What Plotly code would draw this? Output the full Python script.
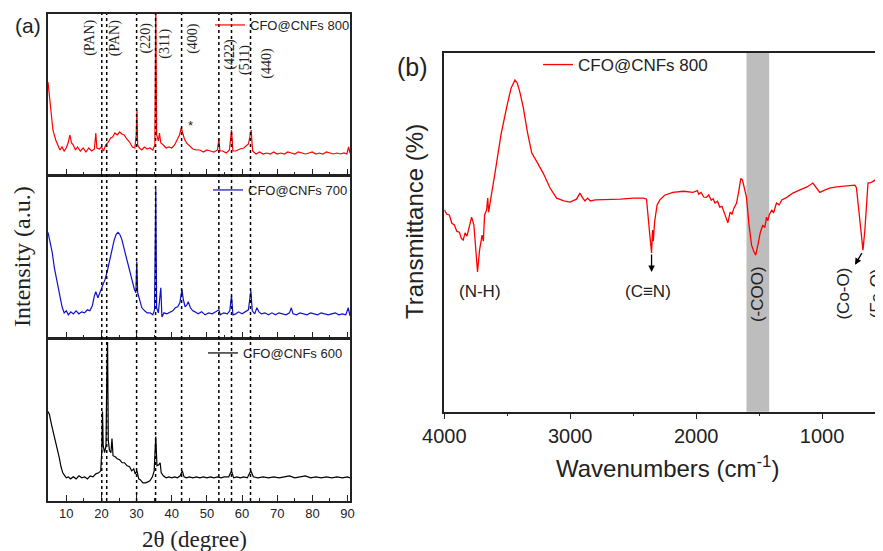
import plotly.graph_objects as go

# ---------------- XRD data (panel a) ----------------
tt_800 = [4.8, 5.4, 6.2, 7.0, 7.4, 8.2, 8.8, 9.4, 10.0, 10.6, 11.0, 11.5, 12.0, 12.6, 13.2, 14.0, 14.8, 15.6,
          16.4, 17.2, 18.0, 18.4, 18.7, 19.4, 20.0, 20.6, 21.2, 22.0, 22.6, 23.2, 23.8, 24.5, 25.2, 25.8, 26.5,
          27.2, 28.0, 28.8, 29.5, 29.9, 30.1, 30.3, 30.8, 31.5, 32.2, 33.0, 33.8, 34.6, 35.2, 35.45, 35.7, 36.2,
          36.5, 36.9, 37.6, 38.4, 39.2, 40.0, 40.8, 41.5, 42.2, 42.7, 43.1, 43.6, 44.2, 45.0, 46.0, 47.0, 48.0,
          49.0, 50.0, 51.0, 52.0, 53.0, 53.4, 53.7, 54.5, 55.5, 56.4, 57.0, 57.4, 58.2, 59.4, 60.5, 61.2, 61.8,
          62.6, 63.0, 64.0, 65.0, 66.0, 67.0, 68.0, 69.0, 70.0, 71.0, 72.0, 73.0, 74.0, 75.0, 76.0, 77.0, 78.0,
          79.0, 80.0, 81.0, 82.0, 83.0, 84.0, 85.0, 86.0, 87.0, 88.0, 89.0, 89.8, 90.3, 90.7]
int_800 = [93, 70, 45, 35, 32, 25, 28, 24, 27, 33, 40, 32, 30, 25, 28, 24, 27, 23,
           27, 24, 26, 42, 27, 26, 28, 24, 30, 33, 37, 38, 42, 40, 43, 41, 40,
           36, 33, 28, 27, 40, 65, 30, 27, 25, 28, 26, 27, 25, 30, 175, 40, 34,
           42, 32, 30, 27, 28, 27, 30, 35, 40, 47, 42, 36, 32, 29, 26, 25, 25,
           23, 25, 24, 23, 25, 36, 24, 24, 22, 25, 45, 24, 24, 26, 27, 29, 31,
           45, 24, 21, 23, 21, 22, 21, 23, 21, 22, 21, 23, 22, 21, 23, 22, 21,
           22, 23, 21, 22, 21, 23, 22, 21, 22, 21, 22, 21, 28, 22]

tt_700 = [4.8, 5.4, 6.0, 6.6, 7.4, 8.0, 8.8, 9.4, 10.0, 10.6, 11.3, 12.0, 12.8, 13.6, 14.4, 15.2, 16.0, 16.7,
          17.4, 18.0, 18.4, 19.0, 19.6, 20.3, 21.0, 21.7, 22.4, 23.0, 23.6, 24.2, 24.7, 25.2, 25.8, 26.5, 27.2,
          28.0, 28.7, 29.4, 29.8, 30.05, 30.3, 30.8, 31.5, 32.3, 33.0, 33.8, 34.6, 35.1, 35.45, 35.7, 36.2, 36.6,
          36.9, 37.2, 37.8, 38.6, 39.5, 40.3, 41.0, 41.7, 42.3, 42.9, 43.3, 43.8, 44.3, 44.7, 45.3, 46.0, 46.6,
          47.5, 48.5, 49.5, 50.5, 51.5, 52.5, 53.4, 53.8, 54.8, 55.8, 56.5, 57.0, 57.4, 58.2, 59.0, 60.0, 61.0,
          61.8, 62.5, 62.9, 63.6, 64.2, 64.8, 65.5, 66.5, 67.5, 68.5, 69.5, 70.5, 71.5, 72.5, 73.5, 74.0, 74.5,
          75.5, 76.5, 77.5, 78.5, 79.5, 80.5, 81.5, 82.5, 83.5, 84.5, 85.5, 86.5, 87.5, 88.5, 89.5, 90.2, 90.7]
int_700 = [105, 95, 85, 70, 55, 42, 31, 25, 27, 23, 26, 24, 27, 24, 26, 25, 28, 27,
           32, 42, 46, 40, 45, 52, 58, 67, 78, 88, 97, 103, 105, 103, 98, 88, 78,
           65, 55, 48, 45, 76, 45, 38, 30, 27, 25, 25, 23, 28, 148, 30, 25, 40,
           50, 21, 25, 24, 26, 27, 30, 31, 35, 48, 38, 31, 33, 36, 30, 27, 26,
           24, 26, 23, 25, 24, 26, 28, 23, 25, 24, 27, 42, 23, 24, 26, 24, 26,
           28, 47, 27, 24, 30, 26, 24, 25, 23, 25, 23, 25, 24, 23, 25, 30, 24,
           23, 25, 24, 23, 25, 24, 23, 25, 24, 23, 24, 25, 23, 24, 23, 30, 22]

tt_600 = [4.8, 5.2, 5.8, 6.6, 7.4, 8.0, 8.5, 9.0, 9.4, 10.0, 10.6, 11.2, 12.0, 12.8, 13.6, 14.4, 15.2, 16.0,
          16.8, 17.6, 18.4, 19.2, 19.8, 20.1, 20.3, 20.5, 20.9, 21.3, 21.55, 21.75, 21.95, 22.3, 22.7, 23.0,
          23.3, 23.9, 24.5, 25.2, 25.9, 26.6, 27.3, 28.0, 28.6, 29.2, 29.6, 30.1, 30.6, 31.1, 31.8, 32.5, 33.2,
          33.8, 34.5, 35.0, 35.45, 35.8, 36.3, 36.7, 37.0, 37.6, 38.4, 39.2, 40.0, 40.8, 41.6, 42.4, 43.0, 43.5,
          44.2, 45.0, 46.0, 47.0, 48.0, 49.0, 50.0, 51.0, 52.0, 53.0, 54.0, 55.0, 56.2, 57.0, 57.6, 58.5, 59.5,
          60.5, 61.5, 62.5, 63.2, 64.5, 66.0, 67.5, 69.0, 70.5, 72.0, 73.5, 75.0, 76.5, 78.0, 79.5, 81.0, 82.5,
          84.0, 85.5, 87.0, 88.5, 90.0, 90.7]
int_600 = [89, 86, 76, 65, 54, 43, 34, 28, 26, 23, 24, 22, 24, 22, 25, 23, 24, 22,
           25, 24, 27, 28, 30, 50, 89, 55, 48, 55, 130, 158, 60, 50, 48, 62,
           45, 44, 42, 41, 38, 38, 35, 34, 30, 32, 27, 30, 22, 21, 18, 18, 19,
           20, 24, 30, 64, 35, 36, 38, 28, 25, 23, 24, 23, 24, 23, 25, 30, 24,
           23, 24, 23, 24, 23, 24, 23, 24, 23, 24, 23, 24, 24, 30, 23, 24, 23,
           24, 23, 30, 24, 23, 24, 23, 24, 23, 24, 25, 23, 24, 25, 23, 24, 23,
           24, 23, 24, 23, 24, 23]

peak_lines = [20.1, 21.5, 30.0, 35.4, 42.8, 53.4, 57.0, 62.4]
hkl_labels = ["(PAN)", "(PAN)", "(220)", "(311)", "(400)", "(422)", "(511)", "(440)"]
hkl_x = [16.7, 23.9, 32.8, 38.0, 46.0, 56.5, 60.8, 67.0]
hkl_y = [137, 137, 137, 131, 137, 121, 115, 112]
star_x, star_y = 45.2, 49

# ---------------- FTIR data (panel b) ----------------
wn = [4000, 3980, 3960, 3940, 3920, 3900, 3880, 3865, 3850, 3835, 3820, 3800, 3783, 3765, 3750, 3736, 3720,
      3700, 3690, 3680, 3664, 3655, 3648, 3637, 3620, 3600, 3584, 3550, 3505, 3470, 3439, 3420, 3400, 3373,
      3340, 3306, 3260, 3214, 3160, 3108, 3050, 3002, 2950, 2923, 2900, 2883, 2862, 2840, 2800, 2700, 2600,
      2500, 2420, 2394, 2380, 2370, 2360, 2354, 2346, 2340, 2330, 2310, 2288, 2250, 2185, 2100, 2026, 1990,
      1980, 1960, 1940, 1918, 1900, 1880, 1865, 1850, 1830, 1812, 1795, 1780, 1760, 1748, 1730, 1715, 1700,
      1679, 1660, 1645, 1632, 1615, 1600, 1580, 1560, 1540, 1527, 1510, 1490, 1470, 1455, 1441, 1430, 1420,
      1400, 1385, 1362, 1340, 1320, 1280, 1232, 1180, 1120, 1073, 1050, 1018, 980, 940, 886, 820, 780, 740,
      727, 710, 690, 675, 660, 645, 635, 608, 580, 550, 535, 527, 516]
trans = [56.2, 55.0, 54.8, 52.5, 52.0, 50.2, 50.0, 48.3, 47.8, 49.8, 48.9, 52.0, 54.2, 52.0, 45.0, 38.9, 45.0,
         49.2, 47.5, 54.8, 56.2, 59.5, 55.6, 57.6, 61.7, 65.9, 69.3, 77.1, 84.8, 90.1, 92.4, 91.5, 89.0, 84.8,
         77.9, 72.1, 69.3, 66.4, 62.3, 59.5, 58.7, 58.4, 59.2, 60.9, 59.5, 58.7, 59.5, 58.7, 59.0, 59.0, 59.2,
         59.5, 59.5, 59.2, 54.8, 50.0, 46.4, 44.2, 50.6, 47.5, 52.8, 57.6, 59.0, 60.3, 61.1, 61.4, 61.1, 61.6,
         60.6, 61.1, 59.8, 59.7, 60.4, 58.9, 59.3, 58.1, 58.6, 57.0, 57.2, 55.6, 53.9, 52.6, 55.6, 55.0, 56.7,
         58.1, 61.7, 65.0, 64.5, 61.7, 59.7, 52.0, 46.4, 44.5, 43.6, 46.4, 50.0, 52.0, 51.3, 54.2, 53.2, 54.8,
         56.2, 55.4, 58.1, 57.6, 59.0, 59.7, 60.9, 61.7, 62.6, 63.7, 62.6, 61.1, 61.7, 62.3, 62.6, 62.8, 63.1, 63.1,
         62.4, 56.0, 49.2, 45.0, 50.6, 58.9, 63.7, 63.9, 64.5, 63.7, 64.2, 59.0, 30.0]

coo_band = [1600, 1420]
band_labels = ["(N-H)", "(C\u2261N)", "(-COO)", "(Co-O)", "(Fe-O)"]
band_lx = [3717, 2382, 1508, 829, 567]
band_ly = [33.4, 33.4, 32.8, 32.8, 32.8]
band_angle = [0, 0, -90, -90, -90]
# arrows: (tip x, tip y, tail x, tail y)
arrow_tip_x = [2354, 738, 539]
arrow_tip_y = [38.9, 40.9, 40.9]
arrow_tail_x = [2354, 677, 539]
arrow_tail_y = [44.2, 44.6, 52.8]

W, H = 883, 551
OFF = 8  # page body margin of the rendered html


def px(x):
    return (x - OFF) / W


def py(y):
    return 1 - (y - OFF) / H


AX = "#222222"
fig = go.Figure()

fig.add_trace(go.Scatter(x=tt_600, y=int_600, mode="lines", line=dict(color="black", width=1.2),
                         name="CFO@CNFs 600", xaxis="x", yaxis="y", legend="legend3"))
fig.add_trace(go.Scatter(x=tt_700, y=int_700, mode="lines", line=dict(color="#1010c8", width=1.2),
                         name="CFO@CNFs 700", xaxis="x2", yaxis="y2", legend="legend2"))
fig.add_trace(go.Scatter(x=tt_800, y=int_800, mode="lines", line=dict(color="#ff0000", width=1.2),
                         name="CFO@CNFs 800", xaxis="x3", yaxis="y3", legend="legend"))
fig.add_trace(go.Scatter(x=wn, y=trans, mode="lines", line=dict(color="#ff0000", width=1.3),
                         name="CFO@CNFs 800", xaxis="x4", yaxis="y4", legend="legend4"))

xa_dom = [px(48), px(350)]
xr = [4.8, 90.7]
common_x = dict(range=xr, domain=xa_dom, showline=True, linecolor=AX, linewidth=1.5, mirror=True,
                ticks="inside", ticklen=6, tickcolor=AX, tickwidth=1.2, dtick=10, tick0=0,
                minor=dict(dtick=5, ticks="inside", ticklen=3, tickcolor=AX),
                showgrid=False, zeroline=False, automargin=False)
common_y = dict(range=[0, 161], showline=True, linecolor=AX, linewidth=1.5, mirror=True,
                ticks="", showticklabels=False, showgrid=False, zeroline=False, automargin=False)

fig.update_layout(
    width=W, height=H, margin=dict(l=0, r=0, t=0, b=0, autoexpand=False),
    paper_bgcolor="white", plot_bgcolor="white", showlegend=True,
    xaxis=dict(**common_x, anchor="y", showticklabels=True,
               tickfont=dict(family="Arial, Liberation Sans", size=13, color="#222")),
    yaxis=dict(**common_y, domain=[py(501), py(339)], anchor="x"),
    xaxis2=dict(**common_x, anchor="y2", showticklabels=False),
    yaxis2=dict(**common_y, domain=[py(338), py(176)], anchor="x2"),
    xaxis3=dict(**common_x, anchor="y3", showticklabels=False),
    yaxis3=dict(**common_y, domain=[py(175), py(14)], anchor="x3"),
    xaxis4=dict(range=[4000, 516], domain=[px(444.3), px(883)], anchor="y4", showline=True, linecolor=AX,
                linewidth=1.5, mirror=True, ticks="outside", ticklen=6, tickcolor=AX, tickwidth=1.2,
                tickvals=[4000, 3000, 2000, 1000], ticktext=["4000", "3000", "2000", "1000"],
                minor=dict(tickvals=[3500, 2500, 1500], ticks="outside", ticklen=3, tickcolor=AX),
                tickfont=dict(family="Arial, Liberation Sans", size=20, color="#222"),
                showgrid=False, zeroline=False, automargin=False),
    yaxis4=dict(range=[0, 100], domain=[py(411.7), py(52.7)], anchor="x4", showline=True, linecolor=AX,
                linewidth=1.5, mirror=False, ticks="", showticklabels=False, showgrid=False, zeroline=False,
                automargin=False),
    legend=dict(x=px(210), y=py(25), xanchor="left", yanchor="middle", bgcolor="rgba(0,0,0,0)",
                font=dict(family="Arial, Liberation Sans", size=13, color="#222"), itemwidth=30),
    legend2=dict(x=px(208), y=py(190), xanchor="left", yanchor="middle", bgcolor="rgba(0,0,0,0)",
                 font=dict(family="Arial, Liberation Sans", size=13, color="#222"), itemwidth=30),
    legend3=dict(x=px(203), y=py(353), xanchor="left", yanchor="middle", bgcolor="rgba(0,0,0,0)",
                 font=dict(family="Arial, Liberation Sans", size=13, color="#222"), itemwidth=30),
    legend4=dict(x=px(538), y=py(65), xanchor="left", yanchor="middle", bgcolor="rgba(0,0,0,0)",
                 font=dict(family="Arial, Liberation Sans", size=17, color="#222"), itemwidth=30),
)

# dotted reference lines through all three XRD panels
for xv in peak_lines:
    fig.add_shape(type="line", xref="x", yref="paper", x0=xv, x1=xv, y0=py(501), y1=py(14),
                  line=dict(color="black", width=1.5, dash="dot"), layer="above")

# -COO grey band
fig.add_shape(type="rect", xref="x4", yref="y4 domain", x0=coo_band[0], x1=coo_band[1], y0=0, y1=1,
              fillcolor="#bdbdbd", line=dict(width=0), layer="below")

ann = []
serif = "Times New Roman, Liberation Serif, serif"
sans = "Arial, Liberation Sans, sans-serif"
for t, xv, yv in zip(hkl_labels, hkl_x, hkl_y):
    ann.append(dict(text=t, x=xv, y=yv, xref="x3", yref="y3", showarrow=False, textangle=-90,
                    xanchor="center", yanchor="middle",
                    font=dict(family=serif, size=14, color="#222")))
ann.append(dict(text="*", x=star_x, y=star_y, xref="x3", yref="y3", showarrow=False,
                font=dict(family=sans, size=13, color="#222")))

for t, xv, yv, ang in zip(band_labels, band_lx, band_ly, band_angle):
    ann.append(dict(text=t, x=xv, y=yv, xref="x4", yref="y4", showarrow=False, textangle=ang,
                    xanchor="center", yanchor="middle",
                    font=dict(family=sans, size=17, color="#222")))
for tx, ty, ax_, ay_ in zip(arrow_tip_x, arrow_tip_y, arrow_tail_x, arrow_tail_y):
    ann.append(dict(text="", x=tx, y=ty, ax=ax_, ay=ay_, xref="x4", yref="y4", axref="x4", ayref="y4",
                    showarrow=True, arrowhead=2, arrowsize=1, arrowwidth=1.3, arrowcolor="black"))


def pann(text, x, y, size, family, angle=0):
    return dict(text=text, x=px(x), y=py(y), xref="paper", yref="paper", showarrow=False,
                xanchor="center", yanchor="middle", textangle=angle,
                font=dict(family=family, size=size, color="#222"))


ann += [
    pann("(a)", 28, 25, 21, sans),
    pann("(b)", 412, 67, 25, sans),
    pann("Intensity (a.u.)", 22, 257, 24, serif, -90),
    pann("2\u03b8 (degree)", 194, 539, 23, serif),
    pann("Transmittance (%)", 414, 222, 24, sans, -90),
    pann("Wavenumbers (cm<sup>-1</sup>)", 667, 467, 24, sans),
]
fig.update_layout(annotations=ann)

fig.write_html("out.html")
